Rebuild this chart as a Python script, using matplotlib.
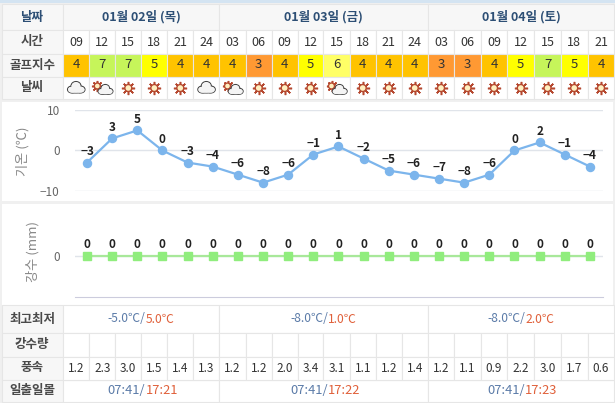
import matplotlib
matplotlib.use('Agg')
import matplotlib.pyplot as plt
from matplotlib.patches import Rectangle, Circle, Ellipse

plt.rcParams['font.family'] = ['Noto Sans CJK KR', 'DejaVu Sans']

W, H = 615, 403

days = ['01월 02일 (목)', '01월 03일 (금)', '01월 04일 (토)']
hours = ['09', '12', '15', '18', '21', '24', '03', '06', '09', '12', '15',
         '18', '21', '24', '03', '06', '09', '12', '15', '18', '21']
golf = [4, 7, 7, 5, 4, 4, 4, 3, 4, 5, 6, 4, 4, 4, 3, 3, 4, 5, 7, 5, 4]
weather = ['cloud', 'part', 'sun', 'sun', 'sun', 'cloud', 'part', 'sun', 'sun', 'sun', 'part',
           'sun', 'sun', 'sun', 'sun', 'sun', 'sun', 'sun', 'sun', 'sun', 'sun']
temps = [-3, 3, 5, 0, -3, -4, -6, -8, -6, -1, 1, -2, -5, -6, -7, -8, -6, 0, 2, -1, -4]
rain = [0] * 21
wind = ['1.2', '2.3', '3.0', '1.5', '1.4', '1.3', '1.2', '1.2', '2.0', '3.4', '3.1',
        '1.1', '1.2', '1.4', '1.2', '1.1', '0.9', '2.2', '3.0', '1.7', '0.6']
low_temp = ['-5.0℃/', '-8.0℃/', '-8.0℃/']
high_temp = ['5.0℃', '1.0℃', '2.0℃']
sunrise = ['07:41/', '07:41/', '07:41/']
sunset = ['17:21', '17:22', '17:23']

# layout in pixels
col_x = [62.7, 89.3, 115.3, 141.3, 167.3, 193.3, 219.3, 245.7, 271.7, 297.7, 323.3, 349.7,
         375.7, 401.7, 427.7, 454.3, 480.7, 507.3, 534.3, 560.7, 587.7, 614.3]
day_x = [62.7, 219.3, 427.7, 614.3]
golf_colors = {3: '#ff9933', 4: '#ffc300', 5: '#ffff00', 6: '#ffff66', 7: '#c6f55a'}
GRID = '#e6e6e6'
HEAD = '#f7f7f7'
BLUE = '#5b7ba8'
RED = '#e0603a'

fig = plt.figure(figsize=(W / 100, H / 100), dpi=100, facecolor='white')
bg = fig.add_axes([0, 0, 1, 1])
bg.set_xlim(0, W)
bg.set_ylim(H, 0)
bg.axis('off')


def cell(x0, y0, x1, y1, fc='white'):
    bg.add_patch(Rectangle((x0, y0), x1 - x0, y1 - y0, fc=fc, ec=GRID, lw=0.8))


def label(y0, y1, s, color='#4a4a4a'):
    cell(2, y0, col_x[0], y1, HEAD)
    bg.text(32, (y0 + y1) / 2, s, ha='center', va='center', fontsize=9,
            fontweight='bold', color=color)


def sun(cx, cy, ms=9.5, r=3.5):
    bg.plot([cx], [cy], marker=(8, 2, 0), ms=ms, mew=1.1, color='#b5482f', zorder=3)
    bg.add_patch(Circle((cx, cy), r, fc='#fff0c0', ec='#b5482f', lw=1.0, zorder=4))


def cloud(cx, cy, s=1.0):
    shapes = [(-4, 1.5, 9, 7), (0, -2, 10, 9), (4.5, 1.5, 9, 7), (0, 2.5, 15, 5)]
    for dx, dy, w, h in shapes:
        bg.add_patch(Ellipse((cx + dx * s, cy + dy * s), w * s, h * s, fc='white', ec='#444444',
                             lw=0.8, zorder=5))
    for dx, dy, w, h in shapes:
        bg.add_patch(Ellipse((cx + dx * s, cy + dy * s + 0.3), (w - 1) * s, (h - 1) * s, fc='#f4f4f4',
                             ec='none', zorder=6))


# page strips
bg.add_patch(Rectangle((0, 0), W, 3, fc='#d4e4f2', ec='none'))
bg.add_patch(Rectangle((0, 3), W, H, fc='#f0f0f0', ec='none'))

# header rows
label(4, 30, '날짜', '#2d4f75')
for i in range(3):
    cell(day_x[i], 4, day_x[i + 1], 30, HEAD)
    bg.text((day_x[i] + day_x[i + 1]) / 2, 17, days[i], ha='center', va='center',
            fontsize=9, fontweight='bold', color='#2d4f75')
label(30, 53.5, '시간')
label(53.5, 76.5, '골프지수')
label(76.5, 99, '날씨')
for i in range(21):
    x0, x1 = col_x[i], col_x[i + 1]
    xc = (x0 + x1) / 2
    cell(x0, 30, x1, 53.5)
    bg.text(xc, 42, hours[i], ha='center', va='center', fontsize=9, color='#333333')
    cell(x0, 53.5, x1, 76.5, golf_colors[golf[i]])
    bg.text(xc, 65, str(golf[i]), ha='center', va='center', fontsize=9.5, color='#333333')
    cell(x0, 76.5, x1, 99)
    if weather[i] == 'sun':
        sun(xc, 88)
    elif weather[i] == 'part':
        sun(xc - 5, 86, ms=8, r=3)
        cloud(xc + 3, 90, 0.85)
    else:
        cloud(xc, 88)

# chart panels
bg.add_patch(Rectangle((2, 102), 611, 99, fc='white', ec='none'))
bg.add_patch(Rectangle((2, 204), 611, 101, fc='white', ec='none'))


def pixel_axes(x0, y0, x1, y1):
    a = fig.add_axes([x0 / W, 1 - y1 / H, (x1 - x0) / W, (y1 - y0) / H])
    a.patch.set_alpha(0)
    for s in a.spines.values():
        s.set_visible(False)
    a.set_xlim(-0.477, 20.52)
    a.set_xticks([])
    return a


xs = list(range(21))

ax = pixel_axes(75, 110.3, 603, 190.7)
ax.set_ylim(-10, 10)
ax.set_yticks([-10, 0, 10])
ax.set_yticklabels(['−10', '0', '10'], fontsize=8.5, color='#666666')
ax.tick_params(axis='y', length=0, pad=11)
ax.grid(axis='y', color='#e0e4ea', lw=1)
ax.set_axisbelow(True)
ax.plot(xs, temps, color='#7cb5ec', lw=1.6, marker='o', ms=5.8, clip_on=False)
for x, t in zip(xs, temps):
    ax.annotate(str(t).replace('-', '−'), (x, t), xytext=(0, 3.5), textcoords='offset points',
                ha='center', va='bottom', fontsize=8.5, fontweight='bold', color='#222222')
bg.text(23, 151, '기온 (℃)', rotation=90, ha='center', va='center', fontsize=9.5, color='#888888')

ax2 = pixel_axes(75, 215, 603, 297.3)
ax2.set_ylim(-1, 1)
ax2.set_yticks([0])
ax2.set_yticklabels(['0'], fontsize=8.5, color='#666666')
ax2.tick_params(axis='y', length=0, pad=11)
ax2.grid(axis='y', color='#e0e4ea', lw=1)
ax2.spines['bottom'].set_visible(True)
ax2.spines['bottom'].set_color('#ccccdd')
ax2.plot(xs, rain, color='#a8e89a', lw=1.6, marker='s', ms=5.8, mfc='#90ed7d', mec='#90ed7d')
for x, r in zip(xs, rain):
    ax2.annotate(str(r), (x, r), xytext=(0, 3.5), textcoords='offset points',
                 ha='center', va='bottom', fontsize=8.5, fontweight='bold', color='#222222')
bg.text(33, 252, '강수 (mm)', rotation=90, ha='center', va='center', fontsize=9.5, color='#888888')

# bottom rows
label(305, 333, '최고최저')
label(333, 356.5, '강수량')
label(356.5, 379.5, '풍속')
label(379.5, 402, '일출일몰')
split = [4.5, 4.5, 4]
for i in range(3):
    x0, x1 = day_x[i], day_x[i + 1]
    xm = (x0 + x1) / 2 + split[i]
    cell(x0, 305, x1, 333)
    cell(x0, 379.5, x1, 402)
    bg.text(xm, 319, low_temp[i], ha='right', va='center', fontsize=8.7, color=BLUE)
    bg.text(xm, 319, high_temp[i], ha='left', va='center', fontsize=8.7, color=RED)
    bg.text(xm, 391, sunrise[i], ha='right', va='center', fontsize=9.3, color=BLUE)
    bg.text(xm, 391, sunset[i], ha='left', va='center', fontsize=9.3, color=RED)
for i in range(21):
    x0, x1 = col_x[i], col_x[i + 1]
    cell(x0, 333, x1, 356.5)
    cell(x0, 356.5, x1, 379.5)
    bg.text((x0 + x1) / 2, 368.5, wind[i], ha='center', va='center', fontsize=8.5, color='#333333')

fig.savefig('out.png', dpi=100)
